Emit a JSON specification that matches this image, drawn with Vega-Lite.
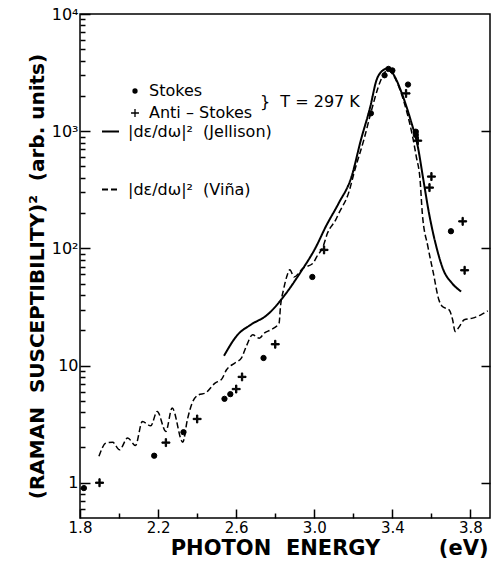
{
  "$schema": "https://vega.github.io/schema/vega-lite/v6.json",
  "width": 410,
  "height": 504,
  "autosize": {"type": "none"},
  "padding": {"left": 80, "top": 14, "right": 2, "bottom": 49},
  "background": "white",
  "config": {
    "font": "DejaVu Sans",
    "view": {"stroke": "black", "strokeWidth": 1.5},
    "axis": {"grid": false, "domain": false, "tickColor": "black", "tickWidth": 1.5, "labelColor": "black", "titleColor": "black", "labelFont": "DejaVu Sans", "titleFont": "DejaVu Sans"},
    "legend": {"labelFont": "DejaVu Sans", "titleFont": "DejaVu Sans", "labelColor": "black", "titleColor": "black"}
  },
  "datasets": {
    "curves": [
      {"series": "Jellison", "x": 2.5375, "y": 12.1},
      {"series": "Jellison", "x": 2.6073, "y": 18.3},
      {"series": "Jellison", "x": 2.6747, "y": 22.3},
      {"series": "Jellison", "x": 2.7594, "y": 27.1},
      {"series": "Jellison", "x": 2.8429, "y": 38.8},
      {"series": "Jellison", "x": 2.9264, "y": 61.4},
      {"series": "Jellison", "x": 3.0096, "y": 103.6},
      {"series": "Jellison", "x": 3.059, "y": 153.5},
      {"series": "Jellison", "x": 3.125, "y": 243},
      {"series": "Jellison", "x": 3.191, "y": 410},
      {"series": "Jellison", "x": 3.2388, "y": 842},
      {"series": "Jellison", "x": 3.287, "y": 1620},
      {"series": "Jellison", "x": 3.3189, "y": 2735},
      {"series": "Jellison", "x": 3.3436, "y": 3220},
      {"series": "Jellison", "x": 3.3778, "y": 3443},
      {"series": "Jellison", "x": 3.4123, "y": 2919},
      {"series": "Jellison", "x": 3.4483, "y": 2107},
      {"series": "Jellison", "x": 3.4933, "y": 1247},
      {"series": "Jellison", "x": 3.5302, "y": 739},
      {"series": "Jellison", "x": 3.5588, "y": 384},
      {"series": "Jellison", "x": 3.5875, "y": 200},
      {"series": "Jellison", "x": 3.625, "y": 103.6},
      {"series": "Jellison", "x": 3.661, "y": 65.6},
      {"series": "Jellison", "x": 3.7053, "y": 50.5},
      {"series": "Jellison", "x": 3.7522, "y": 42.8},
      {"series": "Viña", "x": 1.897, "y": 1.68},
      {"series": "Viña", "x": 1.9332, "y": 2.18},
      {"series": "Viña", "x": 1.9675, "y": 2.21},
      {"series": "Viña", "x": 2.0026, "y": 1.91},
      {"series": "Viña", "x": 2.044, "y": 2.41},
      {"series": "Viña", "x": 2.0842, "y": 2.08},
      {"series": "Viña", "x": 2.1194, "y": 3.33},
      {"series": "Viña", "x": 2.1624, "y": 3.06},
      {"series": "Viña", "x": 2.1954, "y": 4.06},
      {"series": "Viña", "x": 2.2398, "y": 2.74},
      {"series": "Viña", "x": 2.272, "y": 4.34},
      {"series": "Viña", "x": 2.3265, "y": 2.22},
      {"series": "Viña", "x": 2.35, "y": 3.45},
      {"series": "Viña", "x": 2.3742, "y": 4.78},
      {"series": "Viña", "x": 2.4078, "y": 5.63},
      {"series": "Viña", "x": 2.4415, "y": 5.82},
      {"series": "Viña", "x": 2.4918, "y": 7.09},
      {"series": "Viña", "x": 2.5258, "y": 7.66},
      {"series": "Viña", "x": 2.5506, "y": 9.2},
      {"series": "Viña", "x": 2.5926, "y": 10.5},
      {"series": "Viña", "x": 2.6265, "y": 11.57},
      {"series": "Viña", "x": 2.651, "y": 14.5},
      {"series": "Viña", "x": 2.6843, "y": 18.3},
      {"series": "Viña", "x": 2.7185, "y": 17.1},
      {"series": "Viña", "x": 2.7436, "y": 18.9},
      {"series": "Viña", "x": 2.7777, "y": 20.2},
      {"series": "Viña", "x": 2.8196, "y": 23.0},
      {"series": "Viña", "x": 2.8269, "y": 31.9},
      {"series": "Viña", "x": 2.8423, "y": 44.3},
      {"series": "Viña", "x": 2.8585, "y": 57.1},
      {"series": "Viña", "x": 2.8748, "y": 65.6},
      {"series": "Viña", "x": 2.896, "y": 57.1},
      {"series": "Viña", "x": 2.9429, "y": 67.8},
      {"series": "Viña", "x": 2.9937, "y": 74.8},
      {"series": "Viña", "x": 3.0121, "y": 84.6},
      {"series": "Viña", "x": 3.0435, "y": 102},
      {"series": "Viña", "x": 3.0678, "y": 135},
      {"series": "Viña", "x": 3.1097, "y": 175},
      {"series": "Viña", "x": 3.126, "y": 200},
      {"series": "Viña", "x": 3.1754, "y": 296},
      {"series": "Viña", "x": 3.2077, "y": 467},
      {"series": "Viña", "x": 3.2561, "y": 871},
      {"series": "Viña", "x": 3.2959, "y": 1570},
      {"series": "Viña", "x": 3.3283, "y": 2399},
      {"series": "Viña", "x": 3.3528, "y": 3017},
      {"series": "Viña", "x": 3.378, "y": 3330},
      {"series": "Viña", "x": 3.4041, "y": 3017},
      {"series": "Viña", "x": 3.4393, "y": 2247},
      {"series": "Viña", "x": 3.4758, "y": 1423},
      {"series": "Viña", "x": 3.5036, "y": 898},
      {"series": "Viña", "x": 3.5224, "y": 607},
      {"series": "Viña", "x": 3.5419, "y": 384},
      {"series": "Viña", "x": 3.5532, "y": 200},
      {"series": "Viña", "x": 3.5819, "y": 103.6},
      {"series": "Viña", "x": 3.61, "y": 61.4},
      {"series": "Viña", "x": 3.6381, "y": 36.4},
      {"series": "Viña", "x": 3.6561, "y": 31.9},
      {"series": "Viña", "x": 3.6903, "y": 29.9},
      {"series": "Viña", "x": 3.7086, "y": 24.6},
      {"series": "Viña", "x": 3.7214, "y": 19.5},
      {"series": "Viña", "x": 3.743, "y": 21.5},
      {"series": "Viña", "x": 3.768, "y": 24.6},
      {"series": "Viña", "x": 3.811, "y": 25.4},
      {"series": "Viña", "x": 3.8532, "y": 27.1},
      {"series": "Viña", "x": 3.8887, "y": 29.3}
    ],
    "points": [
      {"type": "Stokes", "x": 1.82, "y": 0.9},
      {"type": "Stokes", "x": 2.18, "y": 1.7},
      {"type": "Stokes", "x": 2.33, "y": 2.7},
      {"type": "Stokes", "x": 2.54, "y": 5.2},
      {"type": "Stokes", "x": 2.57, "y": 5.7},
      {"type": "Stokes", "x": 2.74, "y": 11.6},
      {"type": "Stokes", "x": 2.99, "y": 57},
      {"type": "Stokes", "x": 3.29, "y": 1420},
      {"type": "Stokes", "x": 3.36, "y": 3000},
      {"type": "Stokes", "x": 3.38, "y": 3400},
      {"type": "Stokes", "x": 3.40, "y": 3300},
      {"type": "Stokes", "x": 3.48, "y": 2500},
      {"type": "Stokes", "x": 3.52, "y": 990},
      {"type": "Stokes", "x": 3.52, "y": 930},
      {"type": "Stokes", "x": 3.70, "y": 140},
      {"type": "Anti – Stokes", "x": 1.90, "y": 1.0},
      {"type": "Anti – Stokes", "x": 2.24, "y": 2.2},
      {"type": "Anti – Stokes", "x": 2.40, "y": 3.5},
      {"type": "Anti – Stokes", "x": 2.60, "y": 6.3},
      {"type": "Anti – Stokes", "x": 2.63, "y": 8.0},
      {"type": "Anti – Stokes", "x": 2.80, "y": 15.2},
      {"type": "Anti – Stokes", "x": 3.05, "y": 97},
      {"type": "Anti – Stokes", "x": 3.47, "y": 2100},
      {"type": "Anti – Stokes", "x": 3.53, "y": 830},
      {"type": "Anti – Stokes", "x": 3.59, "y": 330},
      {"type": "Anti – Stokes", "x": 3.60, "y": 410},
      {"type": "Anti – Stokes", "x": 3.76, "y": 170},
      {"type": "Anti – Stokes", "x": 3.77, "y": 65}
    ]
  },
  "layer": [
    {
      "data": {"name": "curves"},
      "transform": [{"filter": "datum.series == 'Jellison'"}],
      "mark": {"type": "line", "color": "black", "strokeWidth": 2, "interpolate": "monotone"},
      "encoding": {
        "x": {"field": "x", "type": "quantitative", "scale": {"domain": [1.8, 3.9], "nice": false, "zero": false},
          "axis": {"orient": "bottom", "values": [1.8, 2.2, 2.6, 3.0, 3.4, 3.8], "format": ".1f", "tickSize": -9, "labelPadding": 11, "labelFontSize": 15, "labelFlush": false,
            "title": "PHOTON\u00a0\u00a0ENERGY\u00a0\u00a0\u00a0\u00a0\u00a0\u00a0\u00a0\u00a0(eV)", "titleFontSize": 21, "titleFontWeight": "bold", "titleAnchor": "end", "titleAlign": "right", "titlePadding": 2, "titleX": 408}},
        "y": {"field": "y", "type": "quantitative", "scale": {"type": "log", "domain": [0.5, 10000], "nice": false},
          "axis": {"orient": "left", "values": [1, 10, 100, 1000, 10000], "tickSize": -10, "labelPadding": 12, "labelFontSize": 16, "labelFlush": false,
            "labelExpr": "datum.value == 1 ? '1' : datum.value == 10 ? '10' : datum.value == 100 ? '10²' : datum.value == 1000 ? '10³' : '10⁴'",
            "title": "(RAMAN\u00a0\u00a0SUSCEPTIBILITY)²\u00a0\u00a0(arb. units)", "titleFontSize": 20, "titleFontWeight": "bold", "titlePadding": 4, "titleY": 262}},
        "strokeDash": {"field": "series", "type": "nominal",
          "scale": {"domain": ["Jellison", "Viña"], "range": [[1, 0], [6, 3]]},
          "legend": {"orient": "none", "legendX": 21, "legendY": 108, "padding": 0, "title": null, "symbolType": "stroke", "symbolSize": 289, "symbolStrokeColor": "black", "symbolStrokeWidth": 2, "labelFontSize": 16, "labelOffset": 8, "rowPadding": 40,
            "labelExpr": "'|dε/dω|²\u00a0\u00a0(' + datum.label + ')'"}}
      }
    },
    {
      "data": {"name": "curves"},
      "transform": [{"filter": "datum.series == 'Viña'"}],
      "mark": {"type": "line", "color": "black", "strokeWidth": 1.5, "interpolate": "monotone"},
      "encoding": {
        "x": {"field": "x", "type": "quantitative", "scale": {"domain": [1.8, 3.9], "nice": false, "zero": false},
          "axis": {"orient": "bottom", "values": [2.0, 2.4, 2.8, 3.2, 3.6], "labels": false, "tickSize": -5, "title": null}},
        "y": {"field": "y", "type": "quantitative", "scale": {"type": "log", "domain": [0.5, 10000], "nice": false},
          "axis": {"orient": "left", "values": [0.6, 0.7, 0.8, 0.9, 2, 3, 4, 5, 6, 7, 8, 9, 20, 30, 40, 50, 60, 70, 80, 90, 200, 300, 400, 500, 600, 700, 800, 900, 2000, 3000, 4000, 5000, 6000, 7000, 8000, 9000], "labels": false, "tickSize": -5, "title": null}},
        "strokeDash": {"field": "series", "type": "nominal", "scale": {"domain": ["Jellison", "Viña"], "range": [[1, 0], [6, 3]]}}
      }
    },
    {
      "data": {"name": "points"},
      "mark": {"type": "point", "filled": true, "color": "black", "stroke": "black", "strokeWidth": 1, "size": 28, "opacity": 1},
      "encoding": {
        "x": {"field": "x", "type": "quantitative", "scale": {"domain": [1.8, 3.9], "nice": false, "zero": false}, "axis": null},
        "y": {"field": "y", "type": "quantitative", "scale": {"type": "log", "domain": [0.5, 10000], "nice": false},
          "axis": {"orient": "right", "values": [1, 10, 100, 1000], "labels": false, "tickSize": -9, "title": null}},
        "shape": {"field": "type", "type": "nominal",
          "scale": {"domain": ["Stokes", "Anti – Stokes"], "range": ["circle", "M-1.5,-0.25L-0.25,-0.25L-0.25,-1.5L0.25,-1.5L0.25,-0.25L1.5,-0.25L1.5,0.25L0.25,0.25L0.25,1.5L-0.25,1.5L-0.25,0.25L-1.5,0.25Z"]},
          "legend": {"orient": "none", "legendX": 47, "legendY": 69, "padding": 0, "title": "}\u00a0\u00a0T = 297 K", "titleOrient": "right", "titleFontSize": 16, "titleFontWeight": "normal", "titlePadding": 8, "titleAnchor": "middle",
            "symbolFillColor": "black", "symbolStrokeColor": "black", "symbolStrokeWidth": 1, "symbolSize": 28, "labelFontSize": 16, "labelOffset": 6, "rowPadding": 6}}
      }
    }
  ],
  "resolve": {"axis": {"x": "independent", "y": "independent"}}
}
